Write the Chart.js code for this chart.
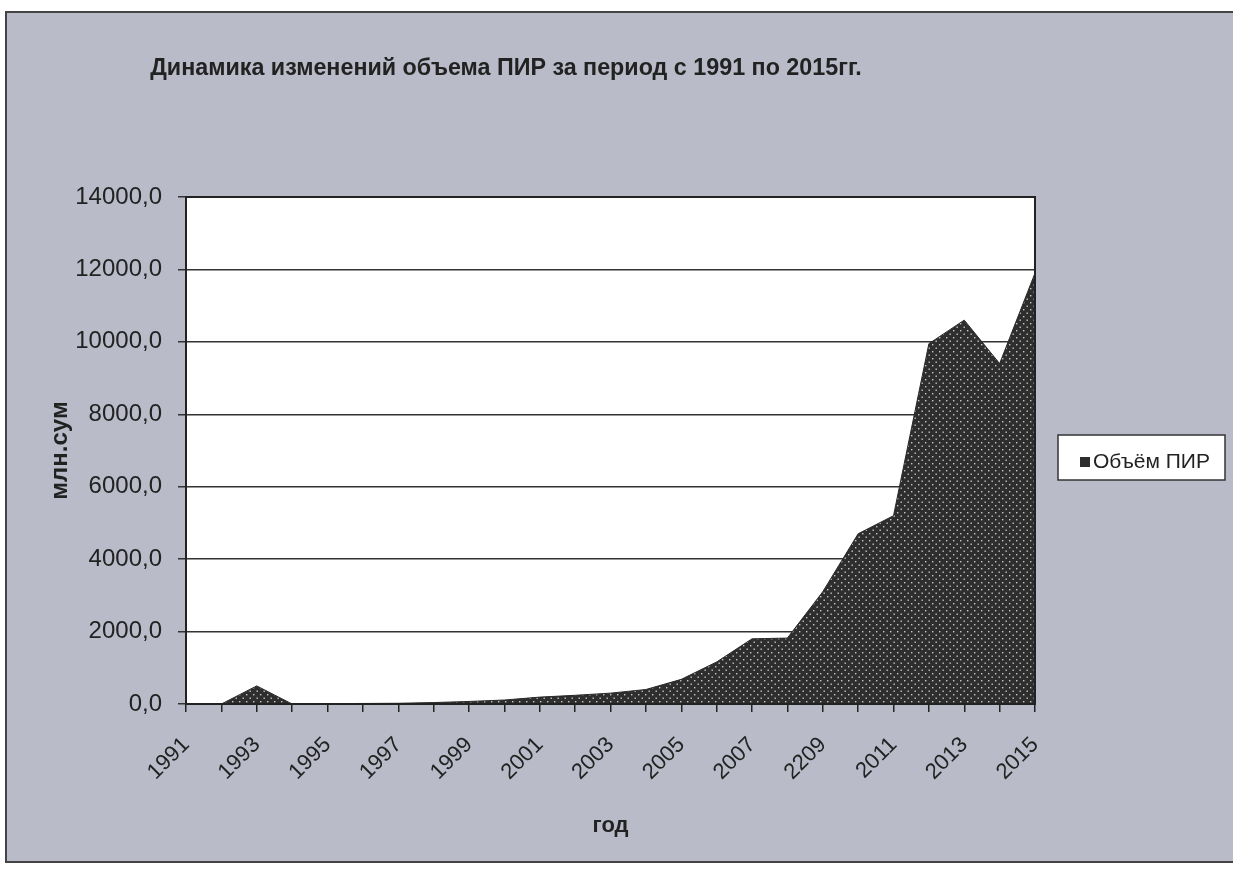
<!DOCTYPE html>
<html>
<head>
<meta charset="utf-8">
<style>
  html, body { margin: 0; padding: 0; background: #fff; }
  #wrap { width: 1233px; height: 872px; }
</style>
<script src="https://cdn.jsdelivr.net/npm/chart.js"></script>
</head>
<body>
<div id="wrap"><canvas id="chart" width="1233" height="872"></canvas></div>
<script>
// data (the 2009 label really says "2209")
const yearLabels = ["1991", "1992", "1993", "1994", "1995", "1996", "1997", "1998", "1999", "2000",
  "2001", "2002", "2003", "2004", "2005", "2006", "2007", "2008", "2209", "2010",
  "2011", "2012", "2013", "2014", "2015"];
const pirVolume = [0, 0, 500, 0, 10, 15, 20, 40, 70, 110,
  190, 240, 300, 400, 680, 1160, 1800, 1820, 3100, 4700,
  5200, 9950, 10600, 9400, 11900];
const seriesName = "Объём ПИР";
const yMax = 14000;
const yStep = 2000;

const font = "'Liberation Sans', Arial, sans-serif";

// dark fill with light dots, like the printed pattern
function dotPattern() {
  const c = document.createElement("canvas");
  c.width = 7; c.height = 7;
  const g = c.getContext("2d");
  g.fillStyle = "#2e2e2e";
  g.fillRect(0, 0, 7, 7);
  g.fillStyle = "#c8c8c8";
  g.fillRect(1, 1, 1.4, 1.4);
  g.fillRect(4.5, 4.5, 1.4, 1.4);
  return g.createPattern(c, "repeat");
}

const decor = {
  id: "decor",
  beforeDraw(chart) {
    const ctx = chart.ctx;
    const a = chart.chartArea;
    ctx.save();
    // grey frame background
    ctx.fillStyle = "#b9bcc8";
    ctx.fillRect(6, 12, 1240, 850);
    ctx.strokeStyle = "#444";
    ctx.lineWidth = 2;
    ctx.strokeRect(6, 12, 1240, 850);
    // white plot area
    ctx.fillStyle = "#fff";
    ctx.fillRect(a.left, a.top, a.right - a.left, a.bottom - a.top);
    ctx.restore();
  },
  afterDraw(chart) {
    const ctx = chart.ctx;
    const a = chart.chartArea;
    ctx.save();
    ctx.strokeStyle = "#222";
    ctx.lineWidth = 2;
    ctx.strokeRect(a.left, a.top, a.right - a.left, a.bottom - a.top);

    // title
    ctx.fillStyle = "#222";
    ctx.font = "bold 23.3px " + font;
    ctx.textAlign = "center";
    ctx.textBaseline = "middle";
    ctx.fillText("Динамика изменений объема ПИР за период с 1991 по 2015гг.", 506, 69);

    // legend
    const lx = 1058, ly = 435, lw = 167, lh = 45;
    ctx.fillStyle = "#fff";
    ctx.fillRect(lx, ly, lw, lh);
    ctx.strokeStyle = "#333";
    ctx.lineWidth = 1.5;
    ctx.strokeRect(lx, ly, lw, lh);
    ctx.fillStyle = "#2e2e2e";
    ctx.fillRect(lx + 22, ly + 22, 10, 10);
    ctx.fillStyle = "#222";
    ctx.font = "21px " + font;
    ctx.textAlign = "left";
    ctx.fillText(chart.data.datasets[0].label, lx + 35, ly + 27);
    ctx.restore();
  }
};

new Chart(document.getElementById("chart"), {
  type: "line",
  data: {
    labels: yearLabels,
    datasets: [{
      label: seriesName,
      data: pirVolume,
      fill: "origin",
      backgroundColor: dotPattern(),
      borderColor: "#2a2a2a",
      borderWidth: 1,
      pointRadius: 0,
      tension: 0,
    }],
  },
  options: {
    responsive: false,
    animation: false,
    layout: { padding: { left: 0, top: 197, right: 198, bottom: 0 } },
    plugins: {
      legend: { display: false },
      tooltip: { enabled: false },
    },
    scales: {
      x: {
        offset: false,
        afterFit(scale) { scale.height = 168; },
        border: { display: true, color: "#222", width: 2 },
        grid: { drawOnChartArea: false, drawTicks: true, tickLength: 8, color: "#222", lineWidth: 1.5 },
        ticks: {
          autoSkip: false,
          minRotation: 45,
          maxRotation: 45,
          color: "#222",
          font: { family: font, size: 22 },
          padding: 20,
          callback(v, i) { return i % 2 === 0 ? this.getLabelForValue(v) : ""; },
        },
        title: {
          display: true,
          text: "год",
          color: "#222",
          font: { family: font, size: 22, weight: "bold" },
          padding: { top: 8, bottom: 33 },
        },
      },
      y: {
        min: 0,
        max: yMax,
        afterFit(scale) { scale.width = 186; },
        border: { display: true, color: "#222", width: 2 },
        grid: { color: "#333", lineWidth: 1.5, tickLength: 8 },
        ticks: {
          stepSize: yStep,
          color: "#222",
          font: { family: font, size: 24 },
          padding: 16,
          callback(v) { return v.toFixed(1).replace(".", ","); },
        },
        title: {
          display: true,
          text: "млн.сум",
          color: "#222",
          font: { family: font, size: 24, weight: "bold" },
          padding: { top: 46, bottom: 8 },
        },
      },
    },
  },
  plugins: [decor],
});
</script>
</body>
</html>
